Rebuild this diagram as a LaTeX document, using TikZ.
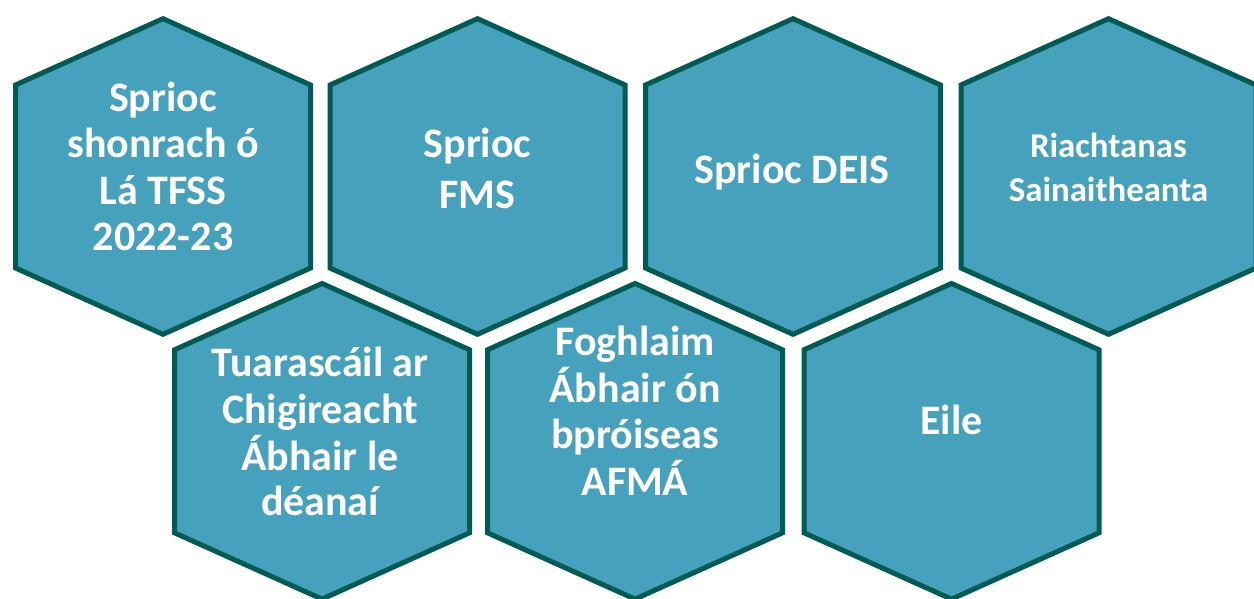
\documentclass[tikz,border=0pt]{standalone}
\usepackage{fontspec}
\setmainfont{Carlito}
\usetikzlibrary{calc}
\definecolor{hexfill}{RGB}{70,161,189}
\definecolor{hexline}{RGB}{0,91,82}
\tikzset{
  hexcell/.style={draw=hexline, fill=hexfill, line width=5pt, line join=miter},
  lbl/.style={text=white, font=\bfseries\fontsize{42}{46}\selectfont, inner sep=0pt, anchor=base},
  lblsmall/.style={lbl, font=\bfseries\fontsize{34.8}{40}\selectfont}
}
\newcommand{\hexcellat}[3]{%
  \coordinate (#1) at (#2,#3);
  \draw[hexcell] ($(#1)+(0,-157.8)$) -- ($(#1)+(147.5,-91.5)$) -- ($(#1)+(147.5,91.5)$)
    -- ($(#1)+(0,157.8)$) -- ($(#1)+(-147.5,91.5)$) -- ($(#1)+(-147.5,-91.5)$) -- cycle;}
\begin{document}
\begin{tikzpicture}[x=1pt,y=-1pt]
\useasboundingbox (0,0) rectangle (1254,598);
\fill[white] (0,0) rectangle (1254,598);
% top row
\hexcellat{c1}{163}{176.5}
\hexcellat{c2}{477.5}{176.5}
\hexcellat{c3}{793}{176.5}
\hexcellat{c4}{1108.5}{176.5}
% bottom row
\hexcellat{c5}{322}{441.3}
\hexcellat{c6}{635}{441.3}
\hexcellat{c7}{951.5}{441.3}
% labels
\node[lbl] (t1a) at (163,111) {Sprioc};
\node[lbl] (t1b) at (163,157) {shonrach ó};
\node[lbl] (t1c) at (163,204) {Lá TFSS};
\node[lbl] (t1d) at (163,250) {2022-23};
\node[lbl] (t2a) at (477.5,157) {Sprioc};
\node[lbl] (t2b) at (477.5,208) {FMS};
\node[lbl] (t3a) at (792,183) {Sprioc DEIS};
\node[lblsmall] (t4a) at (1108.5,157) {Riachtanas};
\node[lblsmall] (t4b) at (1108.5,201) {Sainaitheanta};
\node[lbl] (t5a) at (320,376) {Tuarascáil ar};
\node[lbl] (t5b) at (320,423) {Chigireacht};
\node[lbl] (t5c) at (320,470) {Ábhair le};
\node[lbl] (t5d) at (320,515) {déanaí};
\node[lbl] (t6a) at (635,355) {Foghlaim};
\node[lbl] (t6b) at (635,402) {Ábhair ón};
\node[lbl] (t6c) at (635,448) {bpróiseas};
\node[lbl] (t6d) at (635,495) {AFMÁ};
\node[lbl] (t7a) at (951.5,434) {Eile};
\end{tikzpicture}
\end{document}
